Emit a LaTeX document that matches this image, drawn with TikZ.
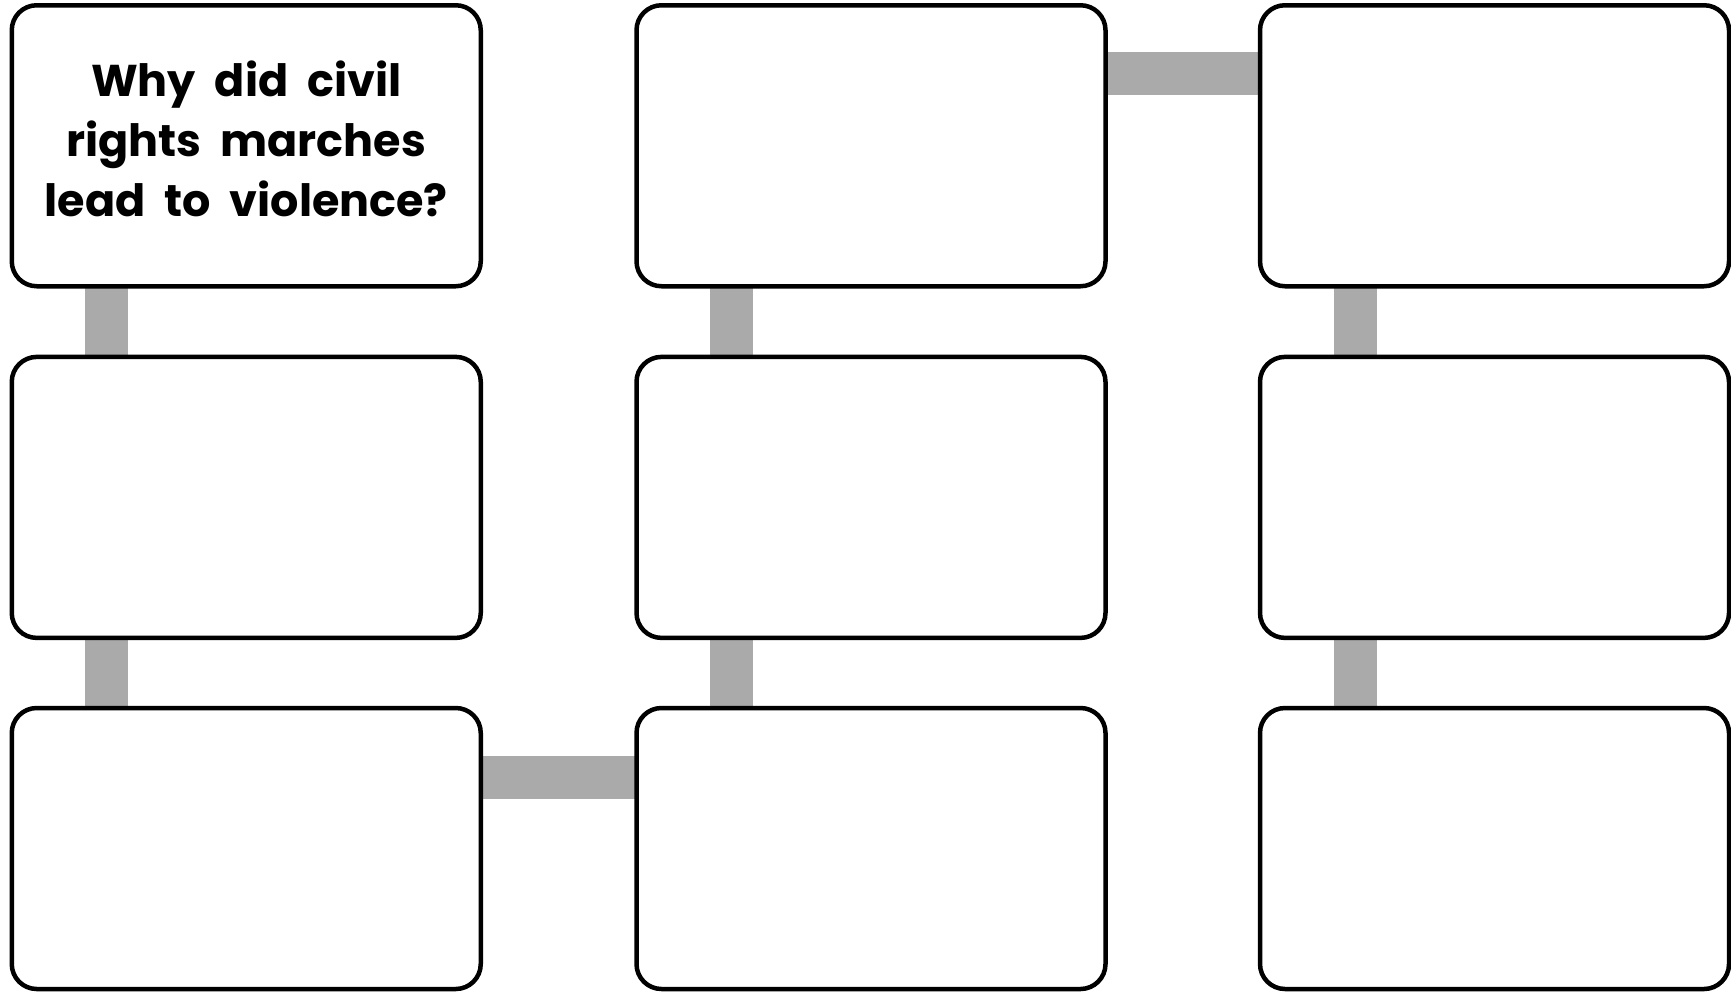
\documentclass[tikz,border=0pt]{standalone}
\usepackage{fontspec}
\newfontfamily\titlefont{Poppins}[WordSpace=2]
\usetikzlibrary{backgrounds}
\definecolor{barg}{RGB}{170,170,170}
\begin{document}
\begin{tikzpicture}[x=1pt,y=-1pt,
  box/.style={draw=black,line width=4.5pt,rounded corners=25pt,fill=white,
    minimum width=469pt,minimum height=281pt,inner sep=0pt,outer sep=0pt},
  bar/.style={draw=barg,line width=43pt},
  title/.style={font=\titlefont\bfseries\fontsize{44.5}{60}\selectfont,align=center,inner sep=0pt}]
\useasboundingbox (0,0) rectangle (1731,993);
\node[box] (b11) at (246.25,145.75) {};
\node[box] (b12) at (871,145.75) {};
\node[box] (b13) at (1494.5,145.75) {};
\node[box] (b21) at (246.25,497.4) {};
\node[box] (b22) at (871,497.4) {};
\node[box] (b23) at (1494.5,497.4) {};
\node[box] (b31) at (246.25,848.5) {};
\node[box] (b32) at (871,848.5) {};
\node[box] (b33) at (1494.5,848.5) {};
\node[title] (q) at (246.25,139) {Why did civil\\rights marches\\lead to violence?};
\begin{pgfonlayer}{background}
\fill[white] (0,0) rectangle (1731,993);
\draw[bar] ([xshift=95pt]b11.south west) -- ([xshift=95pt]b21.north west);
\draw[bar] ([xshift=95pt]b21.south west) -- ([xshift=95pt]b31.north west);
\draw[bar] ([xshift=95pt]b12.south west) -- ([xshift=95pt]b22.north west);
\draw[bar] ([xshift=95pt]b22.south west) -- ([xshift=95pt]b32.north west);
\draw[bar] ([xshift=95pt]b13.south west) -- ([xshift=95pt]b23.north west);
\draw[bar] ([xshift=95pt]b23.south west) -- ([xshift=95pt]b33.north west);
\draw[bar] ([yshift=-68pt]b12.north east) -- ([yshift=-68pt]b13.north west);
\draw[bar] ([yshift=-69.5pt]b31.north east) -- ([yshift=-69.5pt]b32.north west);
\end{pgfonlayer}
\end{tikzpicture}
\end{document}
